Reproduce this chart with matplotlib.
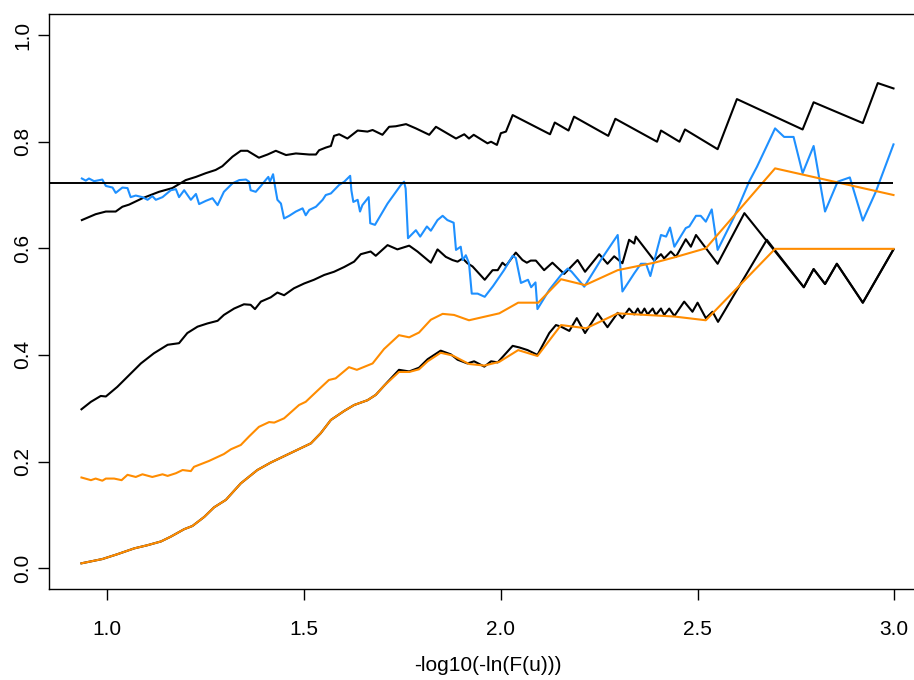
import matplotlib
matplotlib.use('Agg')
import matplotlib.pyplot as plt

# values
upper_x = [0.935, 0.970, 0.996, 1.021, 1.038, 1.055, 1.089, 1.131, 1.165, 1.199, 1.225, 1.250,
           1.275, 1.292, 1.318, 1.339, 1.356, 1.385, 1.407, 1.428, 1.454, 1.479, 1.513, 1.530,
           1.538, 1.555, 1.568, 1.576, 1.589, 1.610, 1.636, 1.661, 1.674, 1.699, 1.716, 1.733,
           1.759, 1.784, 1.818, 1.835, 1.886, 1.907, 1.919, 1.931, 1.966, 1.975, 1.990, 2.000,
           2.013, 2.030, 2.125, 2.137, 2.172, 2.186, 2.273, 2.291, 2.397, 2.407, 2.454, 2.468,
           2.551, 2.600, 2.767, 2.795, 2.920, 2.958, 2.998]
upper_y = [0.653, 0.664, 0.669, 0.669, 0.678, 0.682, 0.694, 0.706, 0.713, 0.728, 0.734, 0.741,
           0.747, 0.754, 0.772, 0.783, 0.783, 0.770, 0.776, 0.783, 0.775, 0.778, 0.776, 0.776,
           0.784, 0.789, 0.792, 0.811, 0.814, 0.806, 0.821, 0.819, 0.822, 0.813, 0.828, 0.829,
           0.833, 0.825, 0.813, 0.828, 0.806, 0.814, 0.806, 0.813, 0.797, 0.800, 0.794, 0.816,
           0.819, 0.850, 0.814, 0.836, 0.821, 0.847, 0.811, 0.843, 0.800, 0.821, 0.800, 0.823,
           0.786, 0.880, 0.823, 0.874, 0.835, 0.910, 0.900]

blue_x = [0.935, 0.945, 0.953, 0.966, 0.987, 0.996, 1.013, 1.021, 1.038, 1.051, 1.059, 1.072,
          1.089, 1.102, 1.114, 1.123, 1.140, 1.161, 1.174, 1.182, 1.195, 1.212, 1.225, 1.233,
          1.250, 1.267, 1.280, 1.296, 1.318, 1.335, 1.352, 1.360, 1.364, 1.377, 1.390, 1.402,
          1.409, 1.413, 1.421, 1.426, 1.432, 1.441, 1.449, 1.462, 1.479, 1.496, 1.504, 1.513,
          1.530, 1.547, 1.555, 1.568, 1.589, 1.602, 1.617, 1.620, 1.625, 1.636, 1.642, 1.648,
          1.664, 1.668, 1.680, 1.712, 1.746, 1.754, 1.758, 1.764, 1.784, 1.795, 1.812, 1.822,
          1.839, 1.852, 1.864, 1.880, 1.886, 1.898, 1.903, 1.911, 1.919, 1.926, 1.941, 1.959,
          1.980, 2.008, 2.030, 2.038, 2.051, 2.069, 2.077, 2.088, 2.093, 2.123, 2.153, 2.170,
          2.180, 2.212, 2.254, 2.297, 2.309, 2.339, 2.356, 2.369, 2.380, 2.398, 2.407, 2.420,
          2.430, 2.441, 2.470, 2.479, 2.496, 2.508, 2.521, 2.536, 2.551, 2.593, 2.631, 2.651,
          2.697, 2.720, 2.744, 2.767, 2.795, 2.824, 2.856, 2.887, 2.920, 2.953, 2.998]
blue_y = [0.731, 0.727, 0.731, 0.726, 0.729, 0.717, 0.714, 0.704, 0.714, 0.713, 0.696, 0.699,
          0.696, 0.691, 0.698, 0.691, 0.696, 0.709, 0.711, 0.696, 0.709, 0.691, 0.702, 0.683,
          0.689, 0.694, 0.681, 0.706, 0.722, 0.728, 0.729, 0.725, 0.709, 0.706, 0.717, 0.728,
          0.734, 0.725, 0.739, 0.716, 0.691, 0.684, 0.656, 0.661, 0.669, 0.675, 0.662, 0.672,
          0.678, 0.691, 0.700, 0.703, 0.719, 0.725, 0.736, 0.709, 0.687, 0.691, 0.669, 0.681,
          0.696, 0.647, 0.644, 0.684, 0.719, 0.725, 0.712, 0.619, 0.634, 0.622, 0.641, 0.633,
          0.653, 0.661, 0.653, 0.648, 0.597, 0.603, 0.578, 0.587, 0.572, 0.515, 0.515, 0.509,
          0.529, 0.559, 0.586, 0.582, 0.535, 0.541, 0.527, 0.536, 0.486, 0.522, 0.550, 0.562,
          0.556, 0.528, 0.578, 0.625, 0.519, 0.553, 0.571, 0.571, 0.548, 0.600, 0.625, 0.622,
          0.639, 0.603, 0.638, 0.641, 0.661, 0.661, 0.650, 0.673, 0.597, 0.659, 0.725, 0.753,
          0.825, 0.809, 0.809, 0.741, 0.792, 0.669, 0.725, 0.733, 0.652, 0.706, 0.795]

middle_x = [0.934, 0.958, 0.983, 0.996, 1.025, 1.055, 1.085, 1.118, 1.153, 1.182, 1.203, 1.229,
            1.254, 1.280, 1.296, 1.322, 1.347, 1.364, 1.375, 1.390, 1.415, 1.432, 1.449, 1.474,
            1.500, 1.525, 1.551, 1.576, 1.602, 1.627, 1.644, 1.669, 1.682, 1.712, 1.737, 1.767,
            1.788, 1.822, 1.839, 1.860, 1.877, 1.890, 1.903, 1.915, 1.928, 1.959, 1.979, 1.992,
            2.004, 2.013, 2.038, 2.055, 2.066, 2.076, 2.089, 2.110, 2.131, 2.161, 2.195, 2.214,
            2.250, 2.271, 2.288, 2.309, 2.326, 2.339, 2.343, 2.390, 2.407, 2.415, 2.432, 2.445,
            2.470, 2.483, 2.496, 2.551, 2.619, 2.770, 2.795, 2.824, 2.854, 2.920, 2.998]
middle_y = [0.298, 0.312, 0.323, 0.322, 0.340, 0.362, 0.384, 0.403, 0.419, 0.422, 0.441, 0.453,
            0.459, 0.464, 0.475, 0.487, 0.495, 0.494, 0.486, 0.500, 0.508, 0.517, 0.512, 0.525,
            0.534, 0.541, 0.550, 0.556, 0.565, 0.575, 0.589, 0.594, 0.586, 0.606, 0.598, 0.605,
            0.594, 0.573, 0.598, 0.584, 0.578, 0.575, 0.581, 0.572, 0.566, 0.541, 0.559, 0.559,
            0.573, 0.567, 0.592, 0.578, 0.573, 0.577, 0.577, 0.559, 0.573, 0.552, 0.578, 0.556,
            0.589, 0.571, 0.585, 0.572, 0.616, 0.609, 0.622, 0.577, 0.589, 0.581, 0.594, 0.584,
            0.617, 0.603, 0.625, 0.571, 0.666, 0.527, 0.561, 0.533, 0.571, 0.498, 0.598]

lower_x = [0.934, 0.987, 1.025, 1.068, 1.102, 1.136, 1.161, 1.195, 1.216, 1.246, 1.271, 1.301,
           1.339, 1.381, 1.415, 1.449, 1.483, 1.517, 1.542, 1.568, 1.602, 1.627, 1.661, 1.682,
           1.703, 1.741, 1.767, 1.792, 1.814, 1.847, 1.873, 1.890, 1.915, 1.932, 1.958, 1.975,
           1.992, 2.030, 2.047, 2.068, 2.093, 2.123, 2.140, 2.153, 2.174, 2.193, 2.214, 2.246,
           2.271, 2.297, 2.309, 2.326, 2.339, 2.348, 2.356, 2.365, 2.373, 2.386, 2.394, 2.407,
           2.415, 2.428, 2.441, 2.466, 2.487, 2.500, 2.521, 2.538, 2.552, 2.676, 2.770, 2.795,
           2.824, 2.854, 2.920, 2.998]
lower_y = [0.009, 0.017, 0.026, 0.037, 0.043, 0.050, 0.059, 0.073, 0.079, 0.096, 0.114, 0.128,
           0.159, 0.184, 0.198, 0.210, 0.222, 0.234, 0.253, 0.278, 0.295, 0.306, 0.315, 0.325,
           0.342, 0.372, 0.369, 0.376, 0.392, 0.408, 0.401, 0.391, 0.384, 0.388, 0.378, 0.388,
           0.386, 0.417, 0.414, 0.409, 0.400, 0.441, 0.456, 0.453, 0.445, 0.469, 0.441, 0.478,
           0.452, 0.479, 0.469, 0.487, 0.476, 0.487, 0.476, 0.487, 0.476, 0.487, 0.475, 0.487,
           0.475, 0.487, 0.473, 0.500, 0.481, 0.498, 0.469, 0.481, 0.462, 0.616, 0.527, 0.561,
           0.533, 0.571, 0.498, 0.598]

orange_hi_x = [0.934, 0.958, 0.970, 0.987, 0.996, 1.017, 1.036, 1.051, 1.072, 1.089, 1.114, 1.140,
               1.153, 1.174, 1.191, 1.212, 1.220, 1.258, 1.296, 1.314, 1.339, 1.360, 1.385, 1.411,
               1.424, 1.449, 1.487, 1.504, 1.534, 1.563, 1.580, 1.614, 1.634, 1.674, 1.703, 1.741,
               1.767, 1.792, 1.822, 1.852, 1.881, 1.919, 1.996, 2.044, 2.095, 2.153, 2.214, 2.297,
               2.390, 2.441, 2.521, 2.697, 2.998]
orange_hi_y = [0.170, 0.165, 0.168, 0.164, 0.168, 0.168, 0.165, 0.175, 0.171, 0.176, 0.171, 0.176,
               0.173, 0.178, 0.184, 0.182, 0.190, 0.201, 0.214, 0.223, 0.231, 0.247, 0.265, 0.274,
               0.273, 0.281, 0.306, 0.312, 0.333, 0.353, 0.356, 0.377, 0.372, 0.384, 0.411, 0.437,
               0.433, 0.442, 0.466, 0.477, 0.475, 0.465, 0.478, 0.498, 0.498, 0.542, 0.531, 0.559,
               0.573, 0.583, 0.600, 0.750, 0.700]

orange_lo_x = [0.934, 0.987, 1.025, 1.068, 1.102, 1.136, 1.161, 1.195, 1.216, 1.246, 1.271, 1.301,
               1.339, 1.381, 1.415, 1.449, 1.483, 1.517, 1.542, 1.568, 1.602, 1.627, 1.661, 1.682,
               1.703, 1.741, 1.767, 1.792, 1.814, 1.847, 1.877, 1.919, 1.958, 1.996, 2.044, 2.093,
               2.153, 2.217, 2.297, 2.441, 2.521, 2.697, 2.998]
orange_lo_y = [0.009, 0.017, 0.026, 0.037, 0.043, 0.050, 0.059, 0.073, 0.079, 0.096, 0.114, 0.128,
               0.159, 0.184, 0.198, 0.210, 0.222, 0.234, 0.253, 0.278, 0.295, 0.306, 0.315, 0.325,
               0.342, 0.368, 0.368, 0.373, 0.388, 0.404, 0.399, 0.383, 0.380, 0.387, 0.409, 0.398,
               0.456, 0.450, 0.478, 0.472, 0.465, 0.599, 0.599]

ref_level = 0.722

x_ticks = [1.0, 1.5, 2.0, 2.5, 3.0]
y_ticks = [0.0, 0.2, 0.4, 0.6, 0.8, 1.0]
x_title = '-log10(-ln(F(u)))'

plt.rcParams['font.family'] = ['Liberation Sans', 'DejaVu Sans']

fig = plt.figure(figsize=(9.14, 6.8), dpi=100)
ax = fig.add_axes([0.0536, 0.1332, 0.9595, 0.8465])

lw = 1.5
ax.plot(upper_x, upper_y, color='black', lw=lw)
ax.plot(middle_x, middle_y, color='black', lw=lw)
ax.plot(lower_x, lower_y, color='black', lw=lw)
ax.plot(blue_x, blue_y, color='#1E90FF', lw=lw)
ax.plot(orange_hi_x, orange_hi_y, color='#FF8C00', lw=lw)
ax.plot(orange_lo_x, orange_lo_y, color='#FF8C00', lw=lw)

# R style 4% padding around the data range
all_x = upper_x + blue_x + middle_x + lower_x + orange_hi_x + orange_lo_x
lo, hi = min(all_x), max(all_x)
pad = 0.04 * (hi - lo)
ax.set_xlim(lo - pad, hi + pad)
ax.set_ylim(-0.04, 1.04)
ax.hlines(ref_level, lo - pad, hi, color='black', lw=1.4)

ax.set_xticks(x_ticks)
ax.set_xticklabels(['%.1f' % v for v in x_ticks])
ax.set_yticks(y_ticks)
ax.set_yticklabels(['%.1f' % v for v in y_ticks], rotation=90, va='center')
ax.tick_params(axis='both', length=8, width=1.0, labelsize=15, direction='out')
ax.tick_params(axis='x', pad=14)
ax.tick_params(axis='y', pad=4)
for s in ax.spines.values():
    s.set_linewidth(1.0)
ax.set_xlabel(x_title, fontsize=15, labelpad=12)

fig.savefig('out.png', dpi=100)
